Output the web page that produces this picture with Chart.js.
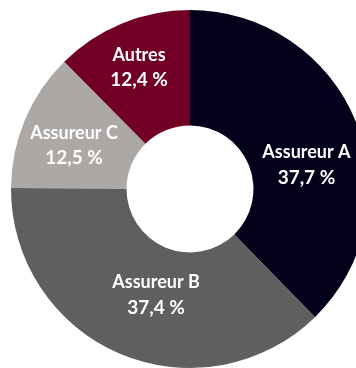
<!DOCTYPE html>
<html lang="fr">
<head>
    <meta charset="UTF-8">
    <title>Parts de marché</title>
    <style>
        html, body { margin: 0; padding: 0; background: #fff; overflow: hidden; width: 356px; height: 368px; }
        #wrap { position: absolute; left: 0; top: 0; width: 380px; height: 378px; }
    </style>
</head>
<body>
    <div id="wrap">
        <canvas id="parts"></canvas>
    </div>

    <script src="https://cdn.jsdelivr.net/npm/chart.js"></script>
    <script>
const labels = ['Assureur A', 'Assureur B', 'Assureur C', 'Autres']
const parts = [37.7, 37.4, 12.5, 12.4]
const couleurs = ['#07001a', '#5f5f5f', '#aca8a6', '#720026']

// where each label sits: fraction of the slice's angle, distance from centre (px)
const placement = [[0.576, 119], [0.461, 111], [0.452, 124], [0.491, 132]]

const fmt = (v) => v.toFixed(1).replace('.', ',') + ' %'

const etiquettes = {
  id: 'etiquettes',
  afterDatasetsDraw(chart) {
    const ctx = chart.ctx
    const arcs = chart.getDatasetMeta(0).data
    ctx.save()
    ctx.fillStyle = '#ffffff'
    ctx.textAlign = 'center'
    ctx.textBaseline = 'alphabetic'
    arcs.forEach((arc, i) => {
      const {x, y, startAngle, endAngle} = arc.getProps(['x', 'y', 'startAngle', 'endAngle'], true)
      const [f, r] = placement[i]
      const a = startAngle + (endAngle - startAngle) * f
      const cx = x + Math.cos(a) * r
      const cy = y + Math.sin(a) * r
      ctx.font = '700 18px Lato'
      ctx.fillText(labels[i], cx, cy - 6.5)
      ctx.font = '700 19px Lato'
      ctx.fillText(fmt(parts[i]), cx, cy + 19)
    })
    ctx.restore()
  }
}

new Chart(document.getElementById('parts'), {
  type: 'doughnut',
  data: {
    labels: labels,
    datasets: [{
      data: parts,
      backgroundColor: couleurs,
      borderWidth: 0
    }]
  },
  options: {
    responsive: true,
    maintainAspectRatio: false,
    animation: false,
    radius: 179,
    cutout: 67,
    layout: { padding: 0 },
    plugins: {
      legend: { display: false },
      tooltip: { enabled: false }
    }
  },
  plugins: [etiquettes]
})
    </script>
</body>
</html>
